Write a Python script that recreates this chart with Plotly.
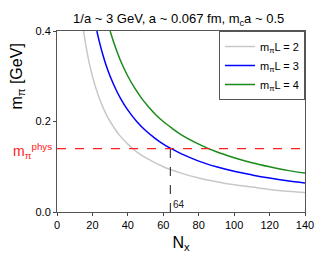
import plotly.graph_objects as go

# data
n_l2 = [15, 16, 18, 20, 22, 25, 28, 30, 35, 40, 45, 50, 60, 70, 80, 90, 100, 110, 120, 130, 140]
m_l2 = [0.400, 0.375, 0.333, 0.300, 0.273, 0.240, 0.214, 0.200, 0.171, 0.150, 0.133, 0.120, 0.100,
        0.086, 0.075, 0.067, 0.060, 0.055, 0.050, 0.046, 0.043]
n_l3 = [22.5, 24, 26, 28, 30, 33, 36, 40, 45, 50, 55, 60, 64, 70, 80, 90, 100, 110, 120, 130, 140]
m_l3 = [0.400, 0.375, 0.346, 0.321, 0.300, 0.273, 0.250, 0.225, 0.200, 0.180, 0.164, 0.150, 0.141,
        0.129, 0.1125, 0.100, 0.090, 0.082, 0.075, 0.069, 0.064]
n_l4 = [30, 32, 34, 36, 40, 44, 48, 52, 56, 60, 65, 70, 80, 90, 100, 110, 120, 130, 140]
m_l4 = [0.400, 0.375, 0.353, 0.333, 0.300, 0.273, 0.250, 0.231, 0.214, 0.200, 0.185, 0.171, 0.150,
        0.133, 0.120, 0.109, 0.100, 0.092, 0.086]
m_phys = 0.14
n_cross = 64
x_ticks = [0, 20, 40, 60, 80, 100, 120, 140]
y_ticks = [0.0, 0.2, 0.4]

FONT = "Liberation Sans, Arial, sans-serif"

fig = go.Figure()
fig.add_trace(go.Scatter(x=n_l2, y=m_l2, mode="lines", line=dict(color="#c8c8c8", width=1.5, shape="spline"),
                         name="m<sub>π</sub>L = 2"))
fig.add_trace(go.Scatter(x=n_l3, y=m_l3, mode="lines", line=dict(color="#0000ff", width=1.5, shape="spline"),
                         name="m<sub>π</sub>L = 3"))
fig.add_trace(go.Scatter(x=n_l4, y=m_l4, mode="lines", line=dict(color="#1a8a1a", width=1.5, shape="spline"),
                         name="m<sub>π</sub>L = 4"))
# physical pion mass line
fig.add_trace(go.Scatter(x=[0, 140], y=[m_phys, m_phys], mode="lines",
                         line=dict(color="#ff2020", width=1.2, dash="dash"), showlegend=False))
fig.add_trace(go.Scatter(x=[n_cross, n_cross], y=[0, m_phys], mode="lines",
                         line=dict(color="#404040", width=1.2, dash="dash"), showlegend=False))

fig.add_annotation(x=n_cross, y=0, xref="x", yref="y", text=str(n_cross), showarrow=False,
                   xanchor="left", yanchor="bottom", xshift=1, yshift=0,
                   font=dict(family=FONT, size=10, color="#222"))
fig.add_annotation(x=0, y=m_phys, xref="paper", yref="y", text="m<sub>π</sub><sup>phys</sup>",
                   showarrow=False, xanchor="right", yanchor="middle", xshift=-3, yshift=-2,
                   font=dict(family=FONT, size=14, color="#ff2020"))
fig.add_annotation(x=-0.16, y=0.75, xref="paper", yref="paper", text="m<sub>π</sub> [GeV]",
                   showarrow=False, textangle=-90, xanchor="center", yanchor="middle",
                   font=dict(family=FONT, size=16, color="#000"))

# page body adds an 8px offset, so the figure is drawn 8px smaller with 8px less left/top margin
fig.update_layout(
    width=319, height=258,
    margin=dict(l=49, r=22, t=23, b=54),
    paper_bgcolor="white", plot_bgcolor="white",
    font=dict(family=FONT, size=11, color="#000"),
    title=dict(text="1/a ~ 3 GeV, a ~ 0.067 fm, m<sub>c</sub>a ~ 0.5", x=0.535, xanchor="center",
               y=0.96, yanchor="middle", font=dict(family=FONT, size=13)),
    legend=dict(x=1, y=1, xanchor="right", yanchor="top", bgcolor="white",
                bordercolor="#555", borderwidth=1, font=dict(family=FONT, size=11),
                tracegroupgap=0, itemwidth=30),
    showlegend=True,
)
fig.update_xaxes(range=[0, 140], tickvals=x_ticks, ticks="outside", ticklen=3, tickcolor="#444",
                 showline=True, linecolor="#555", linewidth=1, mirror=True, showgrid=False,
                 zeroline=False, title=dict(text="N<sub>x</sub>", font=dict(size=16), standoff=6),
                 tickfont=dict(size=11))
fig.update_yaxes(range=[0, 0.4], tickvals=y_ticks, tickformat=".1f", ticks="outside", ticklen=3,
                 tickcolor="#444", showline=True, linecolor="#555", linewidth=1, mirror=True,
                 showgrid=False, zeroline=False, tickfont=dict(size=11))

fig.write_html("out.html")
